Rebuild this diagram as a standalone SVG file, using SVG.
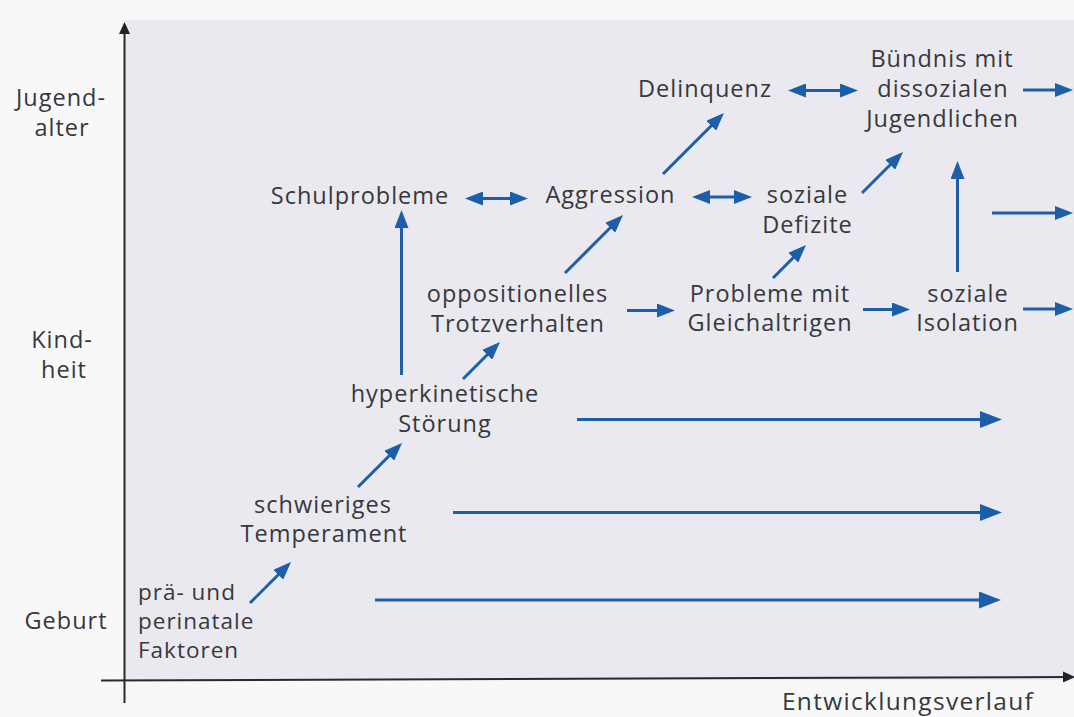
<svg xmlns="http://www.w3.org/2000/svg" width="1074" height="717" viewBox="0 0 1074 717">
  <style>
    .t { font-family: "Open Sans", "Noto Sans", "Liberation Sans", sans-serif; font-size: 23.5px; letter-spacing: 1px; fill: #36383d; text-anchor: middle; }
    .l { text-anchor: start; font-size: 22.5px; }
    .big { font-size: 24.5px; letter-spacing: 1.3px; }
    .c { stroke: #1d5ea8; stroke-width: 3; fill: none; }
    .ax { stroke: #2a2a2e; stroke-width: 2; fill: none; }
  </style>
  <defs>
    <marker id="ah" viewBox="0 0 18 14" refX="6" refY="7" markerWidth="18" markerHeight="14" markerUnits="userSpaceOnUse" orient="auto-start-reverse">
      <path d="M0,0 L18,7 L0,14 z" fill="#1d5ea8"/>
    </marker>
    <marker id="ahL" viewBox="0 0 22 17" refX="8" refY="8.5" markerWidth="22" markerHeight="17" markerUnits="userSpaceOnUse" orient="auto">
      <path d="M0,0 L22,8.5 L0,17 z" fill="#1d5ea8"/>
    </marker>
    <marker id="axh" viewBox="0 0 12 11" refX="4" refY="5.5" markerWidth="12" markerHeight="11" markerUnits="userSpaceOnUse" orient="auto">
      <path d="M0,0 L12,5.5 L0,11 z" fill="#222226"/>
    </marker>
  </defs>

  <!-- background -->
  <rect x="0" y="0" width="1074" height="717" fill="#f8f8f9"/>
  <rect x="124" y="20" width="950" height="660" fill="#e9e9ef"/>

  <!-- axes -->
  <g id="axes">
    <line class="ax" x1="124.5" y1="703" x2="124.5" y2="30" marker-end="url(#axh)"/>
    <line class="ax" x1="101" y1="680.5" x2="1067" y2="677" marker-end="url(#axh)"/>
    <text class="t" x="61" y="106">Jugend-</text>
    <text class="t" x="62" y="136">alter</text>
    <text class="t" x="62" y="348">Kind-</text>
    <text class="t" x="64" y="378">heit</text>
    <text class="t" x="66" y="629">Geburt</text>
    <text class="t big" x="908" y="710">Entwicklungsverlauf</text>
  </g>

  <!-- nodes -->
  <g id="praeperinatal"><text class="t l" x="138" y="600">prä- und</text><text class="t l" x="138" y="629">perinatale</text><text class="t l" x="138" y="658">Faktoren</text></g>
  <g id="temperament"><text class="t" x="323" y="513">schwieriges</text><text class="t" x="324" y="542">Temperament</text></g>
  <g id="hyperkinetisch"><text class="t" x="445" y="401.5">hyperkinetische</text><text class="t" x="445" y="431.5">Störung</text></g>
  <g id="oppositionell"><text class="t" x="517.5" y="301.5">oppositionelles</text><text class="t" x="518" y="331.5">Trotzverhalten</text></g>
  <g id="gleichaltrige"><text class="t" x="770" y="301.5">Probleme mit</text><text class="t" x="770" y="331">Gleichaltrigen</text></g>
  <g id="isolation"><text class="t" x="968" y="301.5">soziale</text><text class="t" x="967.5" y="330.5">Isolation</text></g>
  <g id="schulprobleme"><text class="t" x="360" y="204">Schulprobleme</text></g>
  <g id="aggression"><text class="t" x="610.5" y="203">Aggression</text></g>
  <g id="defizite"><text class="t" x="807.5" y="203">soziale</text><text class="t" x="807.5" y="233">Defizite</text></g>
  <g id="delinquenz"><text class="t" x="705" y="97">Delinquenz</text></g>
  <g id="buendnis"><text class="t" x="942" y="67">Bündnis mit</text><text class="t" x="943" y="97">dissozialen</text><text class="t" x="942.5" y="126.5">Jugendlichen</text></g>

  <!-- connectors -->
  <g id="connectors">
    <line class="c" x1="477" y1="198.5" x2="516" y2="198.5" marker-start="url(#ah)" marker-end="url(#ah)"/>
    <line class="c" x1="704" y1="197" x2="740" y2="197" marker-start="url(#ah)" marker-end="url(#ah)"/>
    <line class="c" x1="800" y1="90.5" x2="846" y2="90.5" marker-start="url(#ah)" marker-end="url(#ah)"/>

    <line class="c" x1="401.5" y1="375" x2="401.5" y2="222" marker-end="url(#ah)"/>
    <line class="c" x1="565" y1="273" x2="614.5" y2="223.5" marker-end="url(#ah)"/>
    <line class="c" x1="663" y1="174" x2="715.5" y2="121.5" marker-end="url(#ah)"/>
    <line class="c" x1="862" y1="193" x2="894.5" y2="160.5" marker-end="url(#ah)"/>
    <line class="c" x1="773" y1="278" x2="797.5" y2="253.5" marker-end="url(#ah)"/>
    <line class="c" x1="463" y1="379" x2="491.5" y2="350.5" marker-end="url(#ah)"/>
    <line class="c" x1="358" y1="487" x2="393.5" y2="451.5" marker-end="url(#ah)"/>
    <line class="c" x1="250" y1="603" x2="282.5" y2="570.5" marker-end="url(#ah)"/>

    <line class="c" x1="627" y1="310.5" x2="663" y2="310.5" marker-end="url(#ah)"/>
    <line class="c" x1="863" y1="309.5" x2="898" y2="309.5" marker-end="url(#ah)"/>
    <line class="c" x1="1023" y1="309" x2="1061" y2="309" marker-end="url(#ah)"/>
    <line class="c" x1="957.5" y1="272" x2="957.5" y2="173" marker-end="url(#ah)"/>
    <line class="c" x1="992" y1="213" x2="1061" y2="213" marker-end="url(#ah)"/>
    <line class="c" x1="1023" y1="90" x2="1061" y2="90" marker-end="url(#ah)"/>

    <line class="c" x1="577" y1="419.5" x2="988" y2="419.5" marker-end="url(#ahL)"/>
    <line class="c" x1="453" y1="512.5" x2="988" y2="512.5" marker-end="url(#ahL)"/>
    <line class="c" x1="375" y1="600" x2="987" y2="600" marker-end="url(#ahL)"/>
  </g>
</svg>
